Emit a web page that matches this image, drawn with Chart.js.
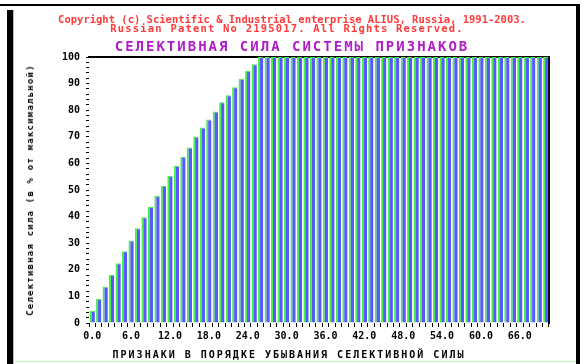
<!DOCTYPE html>
<html>
<head>
<meta charset="utf-8">
<script src="https://cdn.jsdelivr.net/npm/chart.js@4.4.0/dist/chart.umd.min.js"></script>
<style>
  html, body { margin: 0; padding: 0; background: #fff; }
  #wrap { position: relative; width: 587px; height: 364px; overflow: hidden; }
  canvas { position: absolute; left: 0; top: 0; }
  .txt { position: absolute; white-space: nowrap; font-family: "DejaVu Sans Mono", monospace; font-weight: bold; }
  .frame { position: absolute; }
</style>
</head>
<body>
<div id="wrap">
  <div class="frame" style="left:0;top:4px;width:580px;height:2px;background:#000"></div>
  <div class="frame" style="left:7px;top:10px;width:6px;height:354px;background:#000"></div>
  <div class="frame" style="left:13px;top:10px;width:1px;height:354px;background:#5f5"></div>
  <div class="frame" style="left:576px;top:6px;width:4px;height:358px;background:#000"></div>
  <div class="frame" style="left:14px;top:361px;width:562px;height:1px;background:#bfb"></div>
  <canvas id="chart" width="587" height="364"></canvas>
  <div class="txt" id="copy1" style="left:292px;top:13px;transform:translateX(-50%);font-size:10.5px;color:#ff3a3a">Copyright (c) Scientific &amp; Industrial enterprise ALIUS, Russia, 1991-2003.</div>
  <div class="txt" id="copy2" style="left:287px;top:22px;transform:translateX(-50%);font-size:10.5px;letter-spacing:1.2px;color:#ff3a3a">Russian Patent No 2195017. All Rights Reserved.</div>
  <div class="txt" id="title" style="left:292px;top:38px;transform:translateX(-50%);font-size:14px;letter-spacing:2px;color:#b01cc8">СЕЛЕКТИВНАЯ СИЛА СИСТЕМЫ ПРИЗНАКОВ</div>
  <div class="txt" id="xtitle" style="left:289px;top:349px;transform:translateX(-50%);font-size:10px;letter-spacing:2px;color:#000">ПРИЗНАКИ В ПОРЯДКЕ УБЫВАНИЯ СЕЛЕКТИВНОЙ СИЛЫ</div>
  <div class="txt" id="ytitle" style="left:30px;top:190px;transform:translate(-50%,-50%) rotate(-90deg);font-size:9px;letter-spacing:1.2px;color:#000">Селективная сила (в % от максимальной)</div>
</div>
<script>
// selective power of each feature, sorted, in % of the maximum
const features = [
  1, 2, 3, 4, 5, 6, 7, 8, 9, 10, 11, 12, 13, 14, 15, 16, 17, 18, 19, 20,
  21, 22, 23, 24, 25, 26, 27, 28, 29, 30, 31, 32, 33, 34, 35, 36, 37, 38, 39, 40,
  41, 42, 43, 44, 45, 46, 47, 48, 49, 50, 51, 52, 53, 54, 55, 56, 57, 58, 59, 60,
  61, 62, 63, 64, 65, 66, 67, 68, 69, 70, 71,
];
const power = [
  4.5, 9, 13.6, 18, 22.5, 27, 31, 35.6, 39.8, 43.6, 47.7, 51.5, 55.3, 59, 62.5,
  66, 70, 73.5, 76.5, 79.5, 83, 85.6, 88.6, 91.7, 94.7, 97.3,
  100, 100, 100, 100, 100, 100, 100, 100, 100, 100, 100, 100, 100, 100, 100,
  100, 100, 100, 100, 100, 100, 100, 100, 100, 100, 100, 100, 100, 100, 100,
  100, 100, 100, 100, 100, 100, 100, 100, 100, 100, 100, 100, 100, 100, 100,
];
// one x label every 6 bars
const xTickLabels = ['0.0', '6.0', '12.0', '18.0', '24.0', '30.0', '36.0', '42.0', '48.0', '54.0', '60.0', '66.0'];
const xTickEvery = 6;

const tickFont = { family: 'DejaVu Sans Mono', size: 10, weight: 'bold' };

new Chart(document.getElementById('chart'), {
  type: 'bar',
  data: {
    labels: features,
    datasets: [
      {
        data: power,
        backgroundColor: '#5858ff',
        borderColor: '#48f048',
        borderWidth: { left: 2, top: 1, right: 0, bottom: 0 },
        barPercentage: 0.82,
        categoryPercentage: 1.0,
      },
    ],
  },
  options: {
    responsive: false,
    animation: false,
    layout: { padding: { left: 14, top: 57, right: 38, bottom: 0 } },
    plugins: { legend: { display: false }, tooltip: { enabled: false } },
    scales: {
      x: {
        position: 'bottom',
        grid: { drawOnChartArea: false, tickLength: 4, color: '#000' },
        border: { display: false },
        ticks: {
          autoSkip: false,
          maxRotation: 0,
          padding: 3,
          color: '#000',
          font: tickFont,
          callback: (v, i) => (i % xTickEvery === 0 ? xTickLabels[i / xTickEvery] : ''),
        },
        afterFit: (scale) => { scale.height = 41; },
      },
      x2: {
        position: 'top',
        grid: { display: false },
        ticks: { display: false },
        border: { display: true, color: '#000', width: 2 },
        afterFit: (scale) => { scale.height = 0; },
      },
      y: {
        min: 0,
        max: 100,
        grid: { drawOnChartArea: false, tickLength: 3, color: '#000' },
        border: { display: false },
        ticks: {
          stepSize: 2,
          autoSkip: false,
          padding: 6,
          color: '#000',
          font: tickFont,
          callback: (v) => (v % 10 === 0 ? v : ''),
        },
        afterFit: (scale) => { scale.width = 75; },
      },
      y2: {
        position: 'right',
        grid: { display: false },
        ticks: { display: false },
        border: { display: true, color: '#000', width: 2 },
        afterFit: (scale) => { scale.width = 0; },
      },
    },
  },
});
</script>
</body>
</html>
